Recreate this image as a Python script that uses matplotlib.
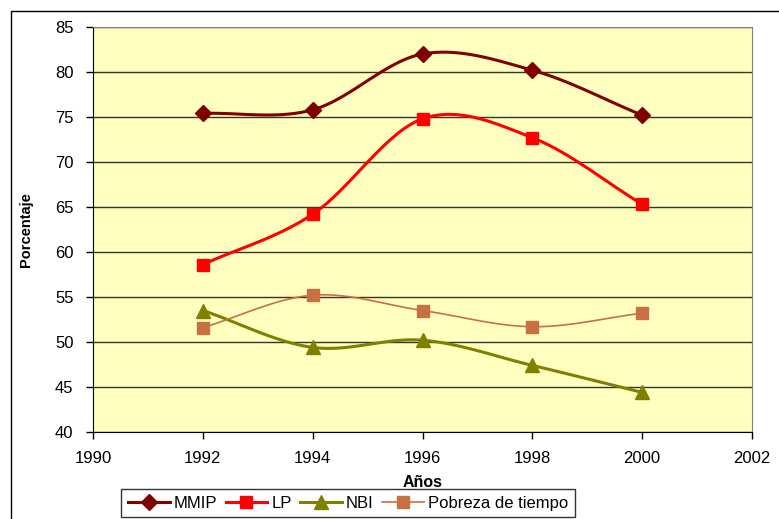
import numpy as np
import matplotlib.pyplot as plt
from matplotlib.patches import Rectangle

plt.rcParams["font.family"] = ["Liberation Sans", "DejaVu Sans"]

# Datos
anios = [1992, 1994, 1996, 1998, 2000]
mmip = [75.4, 75.8, 82.0, 80.2, 75.2]
lp = [58.6, 64.2, 74.8, 72.7, 65.3]
nbi = [53.5, 49.4, 50.2, 47.4, 44.4]
pobreza_tiempo = [51.6, 55.2, 53.5, 51.7, 53.2]


def suavizar(x, y, n=30):
    # curva tipo Excel (Catmull-Rom) entre los puntos
    x = np.asarray(x, float)
    y = np.asarray(y, float)
    px = np.concatenate([[2 * x[0] - x[1]], x, [2 * x[-1] - x[-2]]])
    py = np.concatenate([[2 * y[0] - y[1]], y, [2 * y[-1] - y[-2]]])
    xs, ys = [], []
    t = np.linspace(0, 1, n)
    for i in range(1, len(px) - 2):
        for p, out in ((px, xs), (py, ys)):
            p0, p1, p2, p3 = p[i - 1], p[i], p[i + 1], p[i + 2]
            out.extend(0.5 * ((2 * p1) + (-p0 + p2) * t
                              + (2 * p0 - 5 * p1 + 4 * p2 - p3) * t ** 2
                              + (-p0 + 3 * p1 - 3 * p2 + p3) * t ** 3))
    return xs, ys


fig = plt.figure(figsize=(7.79, 5.19), dpi=100)
fig.patches.append(Rectangle((11 / 779, -0.1), 1.0, 1.1 - 11 / 519,
                             transform=fig.transFigure, fill=False,
                             edgecolor="black", linewidth=1))
ax = fig.add_axes([93 / 779, 1 - 432 / 519, (752 - 93) / 779, (432 - 27) / 519])
ax.set_facecolor("#FFFFC0")

series = [
    ("MMIP", mmip, "#800000", "D", 8, 2.2),
    ("LP", lp, "#FF0000", "s", 9, 2.2),
    ("NBI", nbi, "#808000", "^", 10, 2.2),
    ("Pobreza de tiempo", pobreza_tiempo, "#C87041", "s", 9, 1.2),
]
for nombre, vals, color, marca, ms, lw in series:
    sx, sy = suavizar(anios, vals)
    ax.plot(sx, sy, color=color, linewidth=lw, zorder=3)
    ax.plot(anios, vals, linestyle="none", marker=marca, markersize=ms,
            color=color, zorder=4)
    ax.plot([], [], color=color, linewidth=lw, marker=marca, markersize=ms,
            label=nombre)

ax.set_xlim(1990, 2002)
ax.set_ylim(40, 85)
ax.set_xticks(range(1990, 2003, 2))
ax.set_yticks(range(40, 86, 5))
ax.yaxis.grid(True, color="#333333", linewidth=1)
ax.set_axisbelow(True)
for s in ax.spines.values():
    s.set_color("#808080")
ax.spines["left"].set_color("black")
ax.spines["bottom"].set_color("black")
ax.tick_params(labelsize=12, direction="out", length=5, width=1, pad=9)

ax.set_xlabel("Años", fontsize=11.5, fontweight="bold", labelpad=6)
ax.set_ylabel("Porcentaje", fontsize=10.5, fontweight="bold", labelpad=16)

leg = fig.legend(loc="upper center", bbox_to_anchor=(348 / 779, 1 - 489 / 519),
                 ncol=4, fontsize=12, frameon=True, fancybox=False,
                 edgecolor="black", handlelength=2.5, handletextpad=0.25,
                 columnspacing=0.5, borderpad=0.4, borderaxespad=0)
leg.get_frame().set_linewidth(1)

fig.savefig("out.png", dpi=100)
